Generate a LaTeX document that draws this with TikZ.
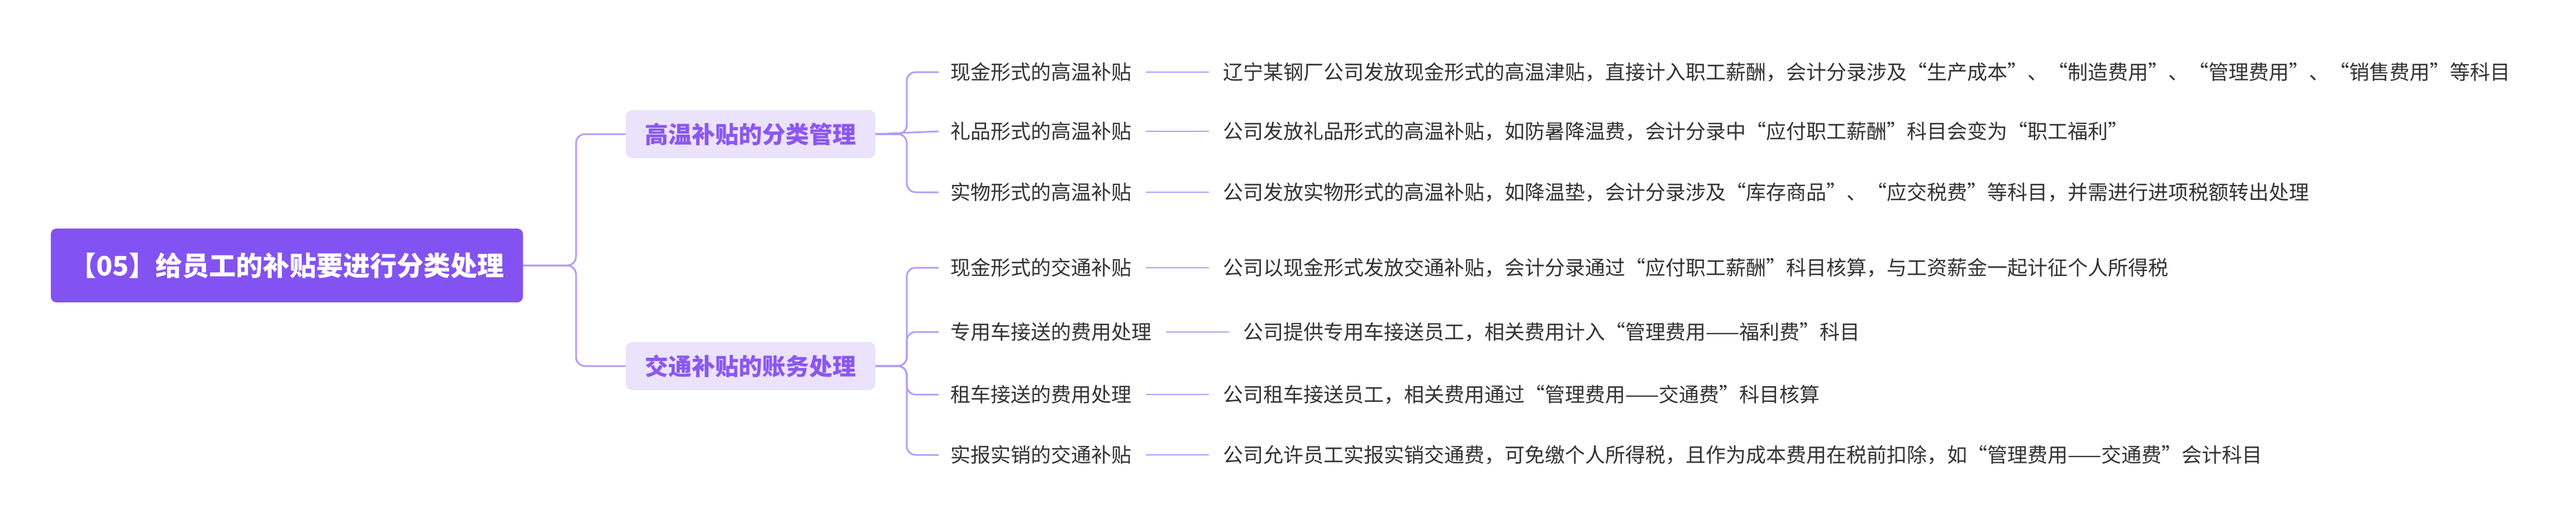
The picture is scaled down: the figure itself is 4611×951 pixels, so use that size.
\documentclass[tikz,border=0pt]{standalone}
\usepackage{fontspec}
\setmainfont{Noto Sans CJK SC}
\definecolor{rootc}{HTML}{8352F2}
\definecolor{l1fill}{HTML}{EBE2FB}
\definecolor{l1text}{HTML}{8B57F0}
\definecolor{linec}{HTML}{B49AF9}
\definecolor{txt}{HTML}{333333}
\tikzset{
 rootbox/.style={fill=rootc,text=white,rounded corners=10pt,minimum width=845pt,minimum height=132pt,font=\fontsize{48}{58}\selectfont\bfseries,inner sep=0pt},
 l1box/.style={fill=l1fill,text=l1text,rounded corners=12pt,minimum width=447pt,minimum height=86pt,font=\fontsize{42}{50}\selectfont\bfseries,inner sep=0pt},
 l2/.style={anchor=west,text=txt,font=\fontsize{36}{42}\selectfont,inner sep=0pt},
 leaf/.style={anchor=west,text=txt,font=\fontsize{36}{42}\selectfont,inner sep=0pt},
 conn/.style={draw=linec,line width=3pt,rounded corners=16pt}
}
\begin{document}
\begin{tikzpicture}[x=1pt,y=-1pt]
\useasboundingbox (0,0) rectangle (4611,951);
\node[rootbox] (root) at (513.5,475) {【05】给员工的补贴要进行分类处理};
\node[l1box] (a) at (1343.5,240) {高温补贴的分类管理};
\node[l1box] (b) at (1343.5,655) {交通补贴的账务处理};
\node[l2] (a1) at (1701,129) {现金形式的高温补贴};
\node[l2] (a2) at (1701,235) {礼品形式的高温补贴};
\node[l2] (a3) at (1701,344) {实物形式的高温补贴};
\node[l2] (b1) at (1701,479) {现金形式的交通补贴};
\node[l2] (b2) at (1701,594) {专用车接送的费用处理};
\node[l2] (b3) at (1701,706) {租车接送的费用处理};
\node[l2] (b4) at (1701,814) {实报实销的交通补贴};
\node[leaf] (c1) at (2189,129) {辽宁某钢厂公司发放现金形式的高温津贴，直接计入职工薪酬，会计分录涉及“生产成本”、“制造费用”、“管理费用”、“销售费用”等科目};
\node[leaf] (c2) at (2189,235) {公司发放礼品形式的高温补贴，如防暑降温费，会计分录中“应付职工薪酬”科目会变为“职工福利”};
\node[leaf] (c3) at (2189,344) {公司发放实物形式的高温补贴，如降温垫，会计分录涉及“库存商品”、“应交税费”等科目，并需进行进项税额转出处理};
\node[leaf] (d1) at (2189,479) {公司以现金形式发放交通补贴，会计分录通过“应付职工薪酬”科目核算，与工资薪金一起计征个人所得税};
\node[leaf] (d2) at (2225,594) {公司提供专用车接送员工，相关费用计入“管理费用——福利费”科目};
\node[leaf] (d3) at (2189,706) {公司租车接送员工，相关费用通过“管理费用——交通费”科目核算};
\node[leaf] (d4) at (2189,814) {公司允许员工实报实销交通费，可免缴个人所得税，且作为成本费用在税前扣除，如“管理费用——交通费”会计科目};
\foreach \t in {a,b}
  \draw[conn] (root.east) -- (1031,475) |- (\t.west);
\foreach \t in {a1,a3}
  \draw[conn] (a.east) -- (1623,240) |- ([xshift=-21pt]\t.west);
\draw[conn] (a.east) -- ([xshift=-21pt]a2.west);
\foreach \t in {b1,b2,b3,b4}
  \draw[conn] (b.east) -- (1623,655) |- ([xshift=-21pt]\t.west);
\foreach \s/\t in {a1/c1,a2/c2,a3/c3,b1/d1,b2/d2,b3/d3,b4/d4}
  \draw[draw=linec,line width=2.5pt] ([xshift=26pt]\s.east) -- ([xshift=-25pt]\t.west);
\end{tikzpicture}
\end{document}
